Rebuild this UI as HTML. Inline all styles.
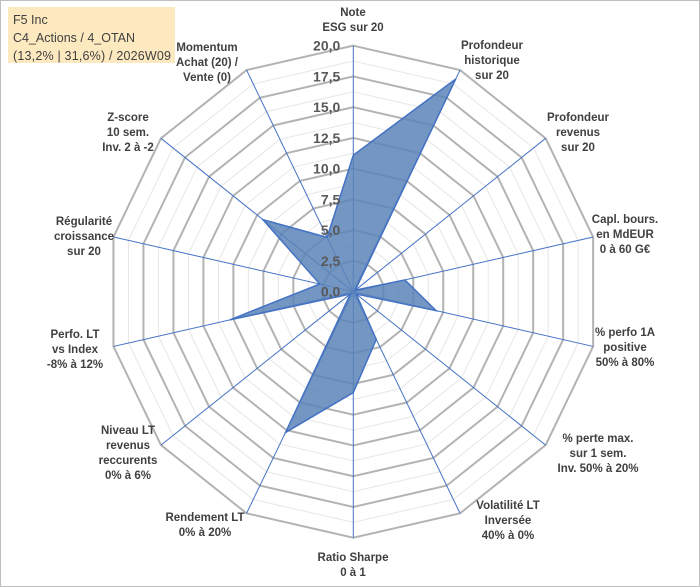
<!DOCTYPE html>
<html><head><meta charset="utf-8"><style>
body{margin:0;background:#fff;}
#wrap{position:relative;width:700px;height:587px;overflow:hidden;font-family:"Liberation Sans",Arial,sans-serif;}
svg{position:absolute;left:0;top:0;}
</style></head><body>
<div id="wrap">
<svg id="chart" width="700" height="587"></svg>
</div>
<script>
const categories=["Note\nESG sur 20","Profondeur\nhistorique\nsur 20","Profondeur\nrevenus\nsur 20","Capl. bours.\nen MdEUR\n0 à 60 G€","% perfo 1A\npositive\n50% à 80%","% perte max.\nsur 1 sem.\nInv. 50% à 20%","Volatilité LT\nInversée\n40% à 0%","Ratio Sharpe\n0 à 1","Rendement LT\n0% à 20%","Niveau LT\nrevenus\nreccurents\n0% à 6%","Perfo. LT\nvs Index\n-8% à 12%","Régularité\ncroissance\nsur 20","Z-score\n10 sem.\nInv. 2 à -2","Momentum\nAchat (20) /\nVente (0)"];
const values=[11.1,19.2,0.2,4.3,6.9,0.3,4.3,8.2,12.7,0.3,10.3,2.8,9.4,4.9];
const tickLabels=["0,0","2,5","5,0","7,5","10,0","12,5","15,0","17,5","20,0"];
const tickValues=[0,2.5,5,7.5,10,12.5,15,17.5,20];
const labelPos=[[353,5],[492,38],[578,110],[625,212],[625,325],[598,431],[508,498],[353,550],[205,510],[128,423],[75,327],[84,214],[128,110],[207,40]];

const svg=document.getElementById('chart');
const NS='http://www.w3.org/2000/svg';
const cx=353.3,cy=291.7,R=246,MAX=20,N=categories.length;
function ang(i){return i*2*Math.PI/N;}
function px(i,v){return cx+Math.sin(ang(i))*v/MAX*R;}
function py(i,v){return cy-Math.cos(ang(i))*v/MAX*R;}
function mk(t,a){const e=document.createElementNS(NS,t);for(const k in a)e.setAttribute(k,a[k]);svg.appendChild(e);return e;}

let b=mk('rect',{x:0.5,y:0.5,width:699,height:586,fill:'#fff',stroke:'#bfbfbf'});



for(let v=1.25;v<MAX;v+=2.5){
  let pts=[];for(let i=0;i<N;i++)pts.push(px(i,v)+','+py(i,v));
  let r=mk('polygon',{points:pts.join(' '),fill:'none',stroke:'#e6e6e6','stroke-width':1});
  
  
}
tickValues.forEach(v=>{
  if(v===0)return;
  let pts=[];for(let i=0;i<N;i++)pts.push(px(i,v)+','+py(i,v));
  let r=mk('polygon',{points:pts.join(' '),fill:'none',stroke:'#b3b3b3','stroke-width':2});
  
  
});
for(let i=0;i<N;i++){
  let l=mk('line',{x1:cx,y1:cy,x2:px(i,MAX),y2:py(i,MAX),stroke:'#4472c4','stroke-width':1});
  
  
}
let pts=values.map((v,i)=>px(i,v)+','+py(i,v)).join(' ');
let poly=mk('polygon',{points:pts,fill:'#5b84b8','fill-opacity':0.85,stroke:'#4472c4','stroke-width':1.5});



tickValues.forEach((v,k)=>{
  let t=mk('text',{x:cx-13,y:py(0,v)+5,'text-anchor':'end','font-size':14,'font-weight':'bold',fill:'#595959'});
  t.textContent=tickLabels[k];
  
  
});
categories.forEach((c,i)=>{
  let lines=c.split('\n');
  let t=mk('text',{'text-anchor':'middle','font-size':11.5,'font-weight':'bold',fill:'#404040'});
  
  
  lines.forEach((s,j)=>{
    let ts=document.createElementNS(NS,'tspan');
    ts.setAttribute('x',labelPos[i][0]);ts.setAttribute('y',labelPos[i][1]+11+j*15);
    ts.textContent=s;t.appendChild(ts);
  });
});
let box=mk('rect',{x:8,y:7,width:167,height:56,fill:'#fde9bf'});


["F5 Inc","C4_Actions / 4_OTAN","(13,2% | 31,6%) / 2026W09"].forEach((s,j)=>{
  let t=mk('text',{x:13,y:24+j*18,'font-size':12.5,fill:'#404040',textLength:j==2?158:null});
  if(j!==2)t.removeAttribute('textLength');
  t.textContent=s;
  
  
});
</script>
</body></html>
